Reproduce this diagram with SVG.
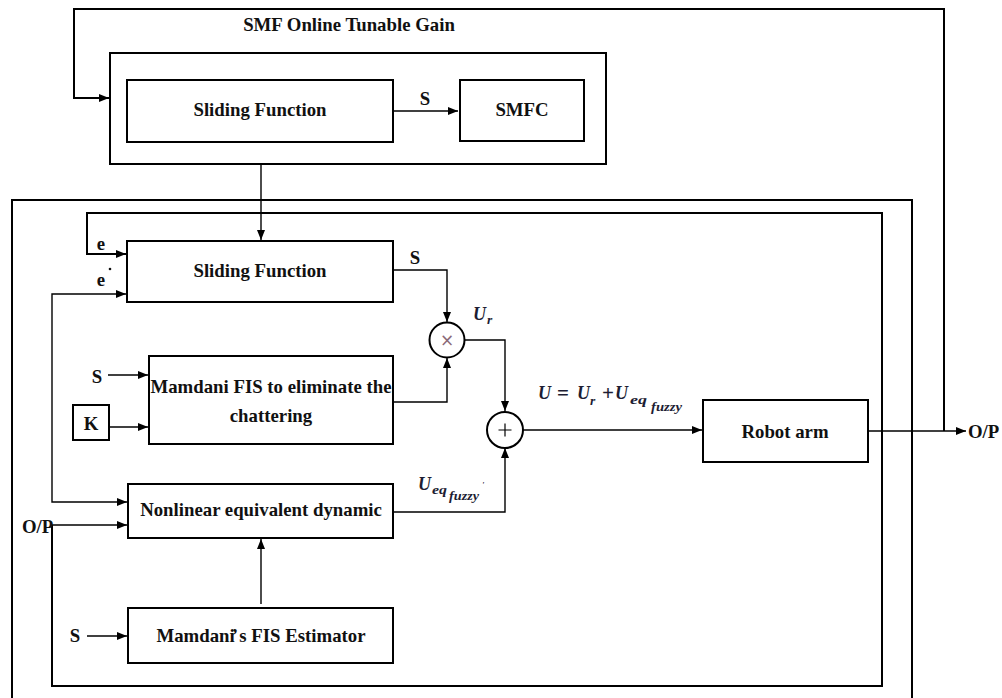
<svg xmlns="http://www.w3.org/2000/svg" width="1002" height="698" viewBox="0 0 1002 698">
  <style>
    .box { fill: #fff; stroke: #000; stroke-width: 2; }
    .frame { fill: none; stroke: #000; stroke-width: 2; }
    .wire { fill: none; stroke: #000; stroke-width: 1.4; }
    .lbl { font-family: "Liberation Serif", "Times New Roman", serif; font-weight: bold; font-size: 18.8px; fill: #111; }
    .mid { text-anchor: middle; }
    .math { font-family: "Liberation Serif", "Times New Roman", serif; font-weight: bold; font-style: italic; font-size: 18px; fill: #1d1d33; }
    .sub { font-size: 13.5px; }
    .op { font-style: normal; font-size: 21px; }
  </style>
  <defs>
    <marker id="arrow" markerUnits="userSpaceOnUse" markerWidth="10" markerHeight="8" refX="10" refY="4" orient="auto">
      <path d="M0,0 L10,4 L0,8 z" fill="#000"/>
    </marker>
  </defs>

  <!-- outer controller frame (runs past the bottom edge) -->
  <g id="controller-frame">
    <rect class="frame" x="12" y="200" width="900" height="520"/>
  </g>

  <!-- SMF online tunable gain block -->
  <g id="smf-gain">
    <rect class="frame" x="110" y="53" width="496" height="111"/>
    <text class="lbl mid" x="349" y="31">SMF Online Tunable Gain</text>
  </g>
  <g id="sliding-top">
    <rect class="box" x="127" y="80" width="266" height="62"/>
    <text class="lbl mid" x="260" y="116">Sliding Function</text>
  </g>
  <g id="smfc">
    <rect class="box" x="460" y="80" width="124" height="61"/>
    <text class="lbl mid" x="522" y="116">SMFC</text>
  </g>

  <!-- connectors -->
  <g id="connectors">
    <!-- output feedback to the tunable gain block -->
    <path class="frame" d="M944,431 V9 H74 V98 H109" marker-end="url(#arrow)"/>
    <path class="wire" d="M393,111 H458" marker-end="url(#arrow)"/>
    <path class="wire" d="M261,164 V240" marker-end="url(#arrow)"/>
    <!-- e loop and O/P input -->
    <path class="frame" d="M52,525 V686 H882 V213 H87 V254 H126" marker-end="url(#arrow)"/>
    <path class="wire" d="M52,525 H127" marker-end="url(#arrow)"/>
    <!-- e-dot branch -->
    <path class="wire" d="M52,400 V294 H126" marker-end="url(#arrow)"/>
    <path class="wire" d="M52,400 V502 H127" marker-end="url(#arrow)"/>
    <!-- to multiplier -->
    <path class="wire" d="M393,270 H447 V322" marker-end="url(#arrow)"/>
    <path class="wire" d="M393,402 H447 V358" marker-end="url(#arrow)"/>
    <!-- to summer -->
    <path class="wire" d="M465,340 H505 V411" marker-end="url(#arrow)"/>
    <path class="wire" d="M393,512 H505 V448" marker-end="url(#arrow)"/>
    <path class="wire" d="M523,430 H702" marker-end="url(#arrow)"/>
    <path class="wire" d="M868,431 H966" marker-end="url(#arrow)"/>
    <!-- fuzzy inputs -->
    <path class="wire" d="M108,375 H148" marker-end="url(#arrow)"/>
    <path class="wire" d="M109,427 H148" marker-end="url(#arrow)"/>
    <path class="wire" d="M87,636 H127" marker-end="url(#arrow)"/>
    <path class="wire" d="M261,604 V539" marker-end="url(#arrow)"/>
  </g>

  <!-- signal labels -->
  <g id="labels">
    <text class="lbl mid" x="425" y="105">S</text>
    <text class="lbl mid" x="415" y="264">S</text>
    <text class="lbl mid" x="101" y="250">e</text>
    <text class="lbl mid" x="101" y="286">e</text>
    <circle cx="110" cy="269" r="1.3" fill="#111"/>
    <text class="lbl mid" x="97" y="383">S</text>
    <text class="lbl mid" x="75" y="642">S</text>
    <text class="lbl" x="22" y="533">O/P</text>
    <text class="lbl" x="968" y="438">O/P</text>
    <text class="math" x="473" y="320">U<tspan class="sub" x="487" y="324">r</tspan></text>
    <text class="math" x="538" y="399">U<tspan class="op" x="557" y="400">=</tspan><tspan x="577" y="399">U</tspan><tspan class="sub" x="590" y="405">r</tspan><tspan class="op" x="602" y="400">+</tspan><tspan x="615" y="399">U</tspan><tspan class="sub" x="630" y="404" textLength="17" lengthAdjust="spacingAndGlyphs">eq</tspan><tspan class="sub" x="651" y="411" textLength="31" lengthAdjust="spacingAndGlyphs">fuzzy</tspan></text>
    <text class="math" x="418" y="490">U<tspan class="sub" x="432" y="494" textLength="15" lengthAdjust="spacingAndGlyphs">eq</tspan><tspan class="sub" x="449" y="500" textLength="30" lengthAdjust="spacingAndGlyphs">fuzzy</tspan><tspan font-size="8" x="482" y="488">'</tspan></text>
  </g>

  <!-- inner controller blocks -->
  <g id="sliding-inner">
    <rect class="box" x="127" y="241" width="266" height="61"/>
    <text class="lbl mid" x="260" y="277">Sliding Function</text>
  </g>
  <g id="multiplier">
    <circle class="box" cx="447" cy="340" r="17.5" stroke-width="1.6"/>
    <text x="447" y="346" text-anchor="middle" font-family="DejaVu Sans, sans-serif" font-size="17" fill="#8a6a78">×</text>
  </g>
  <g id="mamdani-chattering">
    <rect class="box" x="149" y="356" width="244" height="88"/>
    <text class="lbl mid" x="271" y="393">Mamdani FIS to eliminate the</text>
    <text class="lbl mid" x="271" y="422">chattering</text>
  </g>
  <g id="gain-k">
    <rect class="box" x="73" y="405" width="36" height="35"/>
    <text class="lbl mid" x="91" y="430" font-size="22">K</text>
  </g>
  <g id="summer">
    <circle class="box" cx="505" cy="430" r="18" stroke-width="1.6"/>
    <path d="M498.5,430 H511.5 M505,423.5 V436.5" stroke="#000" stroke-width="1.2"/>
  </g>
  <g id="nonlinear-dynamic">
    <rect class="box" x="128" y="484" width="265" height="54"/>
    <text class="lbl mid" x="261" y="516">Nonlinear equivalent dynamic</text>
  </g>
  <g id="fis-estimator">
    <rect class="box" x="128" y="608" width="265" height="55"/>
    <text class="lbl mid" x="261" y="642" dx="0 0 0 0 0 0 0 -3 2">Mamdani’s FIS Estimator</text>
  </g>
  <g id="robot-arm">
    <rect class="box" x="703" y="400" width="165" height="62"/>
    <text class="lbl mid" x="785" y="438" font-size="22">Robot arm</text>
  </g>
</svg>
